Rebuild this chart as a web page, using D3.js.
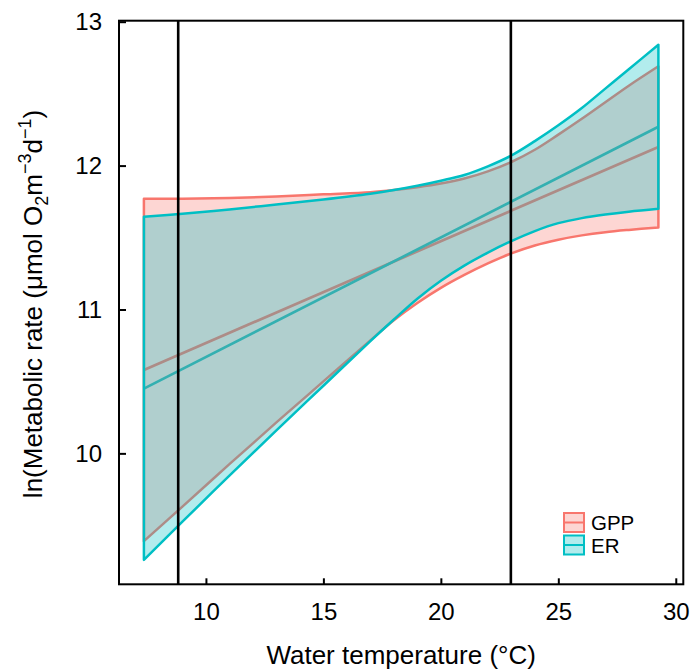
<!DOCTYPE html>
<html>
<head>
<meta charset="utf-8">
<script src="https://cdn.jsdelivr.net/npm/d3@7"></script>
<style>
  html, body { margin: 0; padding: 0; background: #fff; }
  svg { display: block; font-family: "Liberation Sans", Arial, Helvetica, sans-serif; }
</style>
</head>
<body>
<svg id="chart" width="692" height="671"></svg>
<script>
// ---- data ----
const temps    = [7.36, 9, 11, 13, 15, 17, 18, 19, 20, 21, 22, 23, 24, 25, 26, 27, 28, 29.26];
const gppUpper = [11.77, 11.77, 11.775, 11.785, 11.80, 11.815, 11.83, 11.85, 11.875, 11.91, 11.96, 12.025, 12.11, 12.215, 12.325, 12.44, 12.555, 12.69];
const gppLower = [9.39, 9.63, 9.925, 10.215, 10.50, 10.785, 10.925, 11.045, 11.15, 11.24, 11.32, 11.39, 11.445, 11.485, 11.515, 11.537, 11.553, 11.57];
const erUpper  = [11.645, 11.665, 11.695, 11.73, 11.765, 11.805, 11.83, 11.86, 11.895, 11.935, 11.995, 12.07, 12.17, 12.28, 12.40, 12.535, 12.67, 12.84];
const erLower  = [9.26, 9.525, 9.845, 10.16, 10.47, 10.78, 10.93, 11.075, 11.20, 11.305, 11.395, 11.475, 11.545, 11.60, 11.635, 11.66, 11.68, 11.70];
const meanTemps = [7.36, 29.26];
const gppMean  = [10.58, 12.13];
const erMean   = [10.45, 12.27];
const xTicks = [10, 15, 20, 25, 30];
const yTicks = [10, 11, 12, 13];
const vLines = [8.82, 22.98];
const seriesNames = ["GPP", "ER"];
const seriesColors = ["#F8766D", "#00BFC4"];

// ---- layout ----
const svg = d3.select("#chart");
const pL = 119, pR = 683.3, pT = 20.7, pB = 584.3;
const x = d3.scaleLinear().domain([6.30, 30.32]).range([pL, pR]);
const y = d3.scaleLinear().domain([9.09, 13.007]).range([pB, pT]);

const toPts = (xs, ys) => xs.map((t, i) => [t, ys[i]]);

// mean lines (drawn under the ribbons)
const line = d3.line().x(d => x(d[0])).y(d => y(d[1]));
[[gppMean, 0], [erMean, 1]].forEach(([vals, i]) => {
  svg.append("path")
    .attr("d", line(toPts(meanTemps, vals)))
    .attr("fill", "none")
    .attr("stroke", seriesColors[i])
    .attr("stroke-width", 2.7);
});

// ribbons
const area = d3.area()
  .x(d => x(d.t))
  .y0(d => y(d.lo))
  .y1(d => y(d.hi))
  .curve(d3.curveCatmullRom.alpha(0.5));
[[gppLower, gppUpper, 0], [erLower, erUpper, 1]].forEach(([lo, hi, i]) => {
  const pts = temps.map((t, k) => ({ t, lo: lo[k], hi: hi[k] }));
  svg.append("path")
    .attr("d", area(pts) + "Z")
    .attr("fill", seriesColors[i])
    .attr("fill-opacity", 0.3)
    .attr("stroke", seriesColors[i])
    .attr("stroke-width", 2.5)
    .attr("stroke-linejoin", "round");
});

// vertical reference lines
vLines.forEach(v => {
  svg.append("line")
    .attr("x1", x(v)).attr("x2", x(v))
    .attr("y1", pT).attr("y2", pB)
    .attr("stroke", "#000").attr("stroke-width", 2.6);
});

// frame
svg.append("rect")
  .attr("x", pL).attr("y", pT)
  .attr("width", pR - pL).attr("height", pB - pT)
  .attr("fill", "none").attr("stroke", "#000").attr("stroke-width", 2);

// axes (ticks pointing inward)
const xAxis = d3.axisBottom(x).tickValues(xTicks).tickFormat(d3.format("d"))
  .tickSizeInner(-6).tickSizeOuter(0).tickPadding(19);
const gx = svg.append("g").attr("transform", `translate(0,${pB})`).call(xAxis);
gx.select(".domain").remove();
gx.selectAll(".tick line").attr("stroke", "#000").attr("stroke-width", 2);
gx.selectAll("text").attr("font-size", 24).attr("fill", "#000")
  .attr("font-family", "Liberation Sans, Arial, sans-serif");

const yAxis = d3.axisLeft(y).tickValues(yTicks).tickFormat(d3.format("d"))
  .tickSizeInner(-7).tickSizeOuter(0).tickPadding(17);
const gy = svg.append("g").attr("transform", `translate(${pL},0)`).call(yAxis);
gy.select(".domain").remove();
gy.selectAll(".tick line").attr("stroke", "#000").attr("stroke-width", 2);
gy.selectAll("text").attr("font-size", 24).attr("fill", "#000")
  .attr("font-family", "Liberation Sans, Arial, sans-serif");

// axis titles
svg.append("text")
  .attr("x", (pL + pR) / 2).attr("y", 664)
  .attr("text-anchor", "middle")
  .attr("font-size", 26)
  .text("Water temperature (°C)");

const yt = svg.append("text")
  .attr("transform", "translate(42,304) rotate(-90)")
  .attr("text-anchor", "middle")
  .attr("font-size", 26);
yt.append("tspan").text("ln(Metabolic rate (μmol O");
yt.append("tspan").attr("font-size", 18).attr("dy", 6).text("2");
yt.append("tspan").attr("dy", -6).text("m");
yt.append("tspan").attr("font-size", 18).attr("dy", -11).text("−3");
yt.append("tspan").attr("dy", 11).text("d");
yt.append("tspan").attr("font-size", 18).attr("dy", -11).text("−1");
yt.append("tspan").attr("dy", 11).text(")");

// legend
const lg = svg.append("g");
seriesNames.forEach((name, i) => {
  const ky = 513 + i * 22.5;
  lg.append("rect")
    .attr("x", 564).attr("y", ky)
    .attr("width", 20).attr("height", 19)
    .attr("fill", seriesColors[i]).attr("fill-opacity", 0.3)
    .attr("stroke", seriesColors[i]).attr("stroke-width", 2);
  lg.append("line")
    .attr("x1", 564).attr("x2", 584)
    .attr("y1", ky + 9.5).attr("y2", ky + 9.5)
    .attr("stroke", seriesColors[i]).attr("stroke-width", 2);
  lg.append("text")
    .attr("x", 591).attr("y", ky + 17)
    .attr("font-size", 20.5)
    .text(name);
});
</script>
</body>
</html>
